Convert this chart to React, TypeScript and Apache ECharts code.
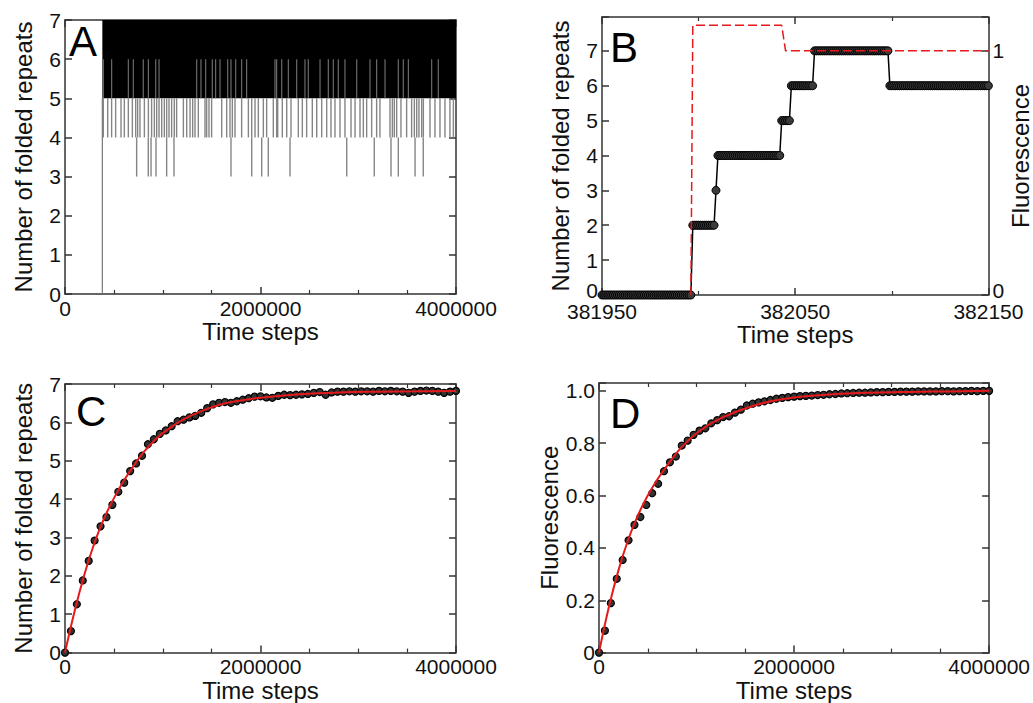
import React, { useEffect, useRef } from "react";
import * as echarts from "echarts";

const FONT = '"Liberation Sans", Arial, Helvetica, sans-serif';
const TXT = "#111";
const FRAME = "#333";
const RED = "#e41a1c";

// ---------- Panel A: raw trajectory ----------
const aFoldTime = 382000;
const aEndTime = 4000000;
const aBandLow = 5;
const aBandHigh = 7;
const aDipsTo4 = [392000, 437000, 477000, 518000, 573000, 607000, 648000, 689000, 723000, 743000, 767000, 812000, 853000, 886000, 914000, 938000, 962000, 989000, 1016000, 1040000, 1064000, 1091000, 1118000, 1142000, 1211000, 1245000, 1279000, 1306000, 1330000, 1364000, 1432000, 1449000, 1473000, 1500000, 1603000, 1654000, 1688000, 1712000, 1739000, 1807000, 1876000, 1910000, 1944000, 1978000, 2029000, 2063000, 2131000, 2165000, 2176000, 2223000, 2268000, 2312000, 2387000, 2428000, 2472000, 2530000, 2575000, 2626000, 2677000, 2721000, 2762000, 2813000, 2864000, 2926000, 2967000, 3018000, 3052000, 3086000, 3137000, 3188000, 3222000, 3325000, 3349000, 3369000, 3393000, 3437000, 3495000, 3546000, 3574000, 3598000, 3621000, 3649000, 3666000, 3734000, 3785000, 3836000, 3887000, 3938000, 3973000];
const aDipsTo3 = [733000, 852000, 880000, 931000, 1040000, 1115000, 1698000, 1910000, 2012000, 2080000, 2302000, 2882000, 3164000, 3335000, 3410000, 3581000, 3665000];
const aGaps56 = [392000, 477000, 648000, 699000, 801000, 853000, 928000, 962000, 1347000, 1391000, 1439000, 1507000, 1541000, 1586000, 1664000, 1698000, 1746000, 1807000, 1858000, 2148000, 2165000, 2217000, 2285000, 2370000, 2455000, 2489000, 2609000, 2694000, 2745000, 2796000, 2864000, 2984000, 3120000, 3188000, 3274000, 3410000, 3461000, 3513000, 3751000, 3819000];

// ---------- Panel B: zoom on folding event ----------
const bStart = 381950;
const bEnd = 382150;
const bStepStarts = [381950, 381997, 382009, 382010, 382043, 382048, 382060, 382099];
const bStepValues = [0, 2, 3, 4, 5, 6, 7, 6];
const bFluoTimes = [381996, 381997, 382043, 382045, 382150];
const bFluoValues = [0, 1.105, 1.105, 1.0, 1.0];

// ---------- Panels C & D: averages ----------
const cdEndTime = 4000000;
const cdSampleCount = 66; // intervals
const cValues = [0, 0.56, 1.26, 1.88, 2.39, 2.92, 3.29, 3.53, 3.85, 4.19, 4.43, 4.73, 4.93, 5.13, 5.43, 5.56, 5.7, 5.79, 5.9, 6.03, 6.07, 6.13, 6.17, 6.25, 6.37, 6.47, 6.51, 6.53, 6.51, 6.55, 6.59, 6.63, 6.67, 6.68, 6.65, 6.64, 6.69, 6.72, 6.71, 6.72, 6.73, 6.74, 6.77, 6.79, 6.72, 6.78, 6.8, 6.8, 6.81, 6.8, 6.81, 6.81, 6.8, 6.82, 6.81, 6.82, 6.81, 6.8, 6.77, 6.8, 6.82, 6.83, 6.82, 6.8, 6.77, 6.8, 6.82];
const dValues = [0, 0.084, 0.189, 0.282, 0.354, 0.429, 0.488, 0.518, 0.564, 0.609, 0.645, 0.693, 0.727, 0.749, 0.791, 0.81, 0.832, 0.848, 0.857, 0.876, 0.888, 0.9, 0.903, 0.917, 0.928, 0.944, 0.951, 0.956, 0.96, 0.965, 0.97, 0.973, 0.976, 0.978, 0.98, 0.981, 0.982, 0.984, 0.985, 0.987, 0.988, 0.99, 0.991, 0.992, 0.993, 0.993, 0.994, 0.995, 0.995, 0.996, 0.996, 0.997, 0.997, 0.997, 0.998, 0.998, 0.998, 0.998, 0.999, 0.999, 0.998, 0.999, 0.999, 1.0, 0.999, 1.0, 1.0];
const cFitTimes = [0, 100000, 200000, 300000, 400000, 500000, 600000, 700000, 800000, 900000, 1000000, 1200000, 1400000, 1600000, 1800000, 2000000, 2400000, 2800000, 3200000, 3600000, 4000000];
const cFitValues = [0, 1.1, 2.05, 2.85, 3.5, 4.02, 4.47, 4.86, 5.21, 5.49, 5.72, 6.06, 6.3, 6.47, 6.57, 6.64, 6.73, 6.78, 6.8, 6.81, 6.82];
const dFitTimes = [0, 100000, 200000, 300000, 400000, 500000, 600000, 700000, 800000, 900000, 1000000, 1200000, 1400000, 1600000, 1800000, 2000000, 2400000, 2800000, 3200000, 3600000, 4000000];
const dFitValues = [0, 0.172, 0.315, 0.432, 0.525, 0.6, 0.662, 0.715, 0.765, 0.805, 0.838, 0.886, 0.919, 0.945, 0.963, 0.975, 0.987, 0.993, 0.996, 0.998, 1.0];

const isMultiple = (v: number, step: number) => Math.abs(v / step - Math.round(v / step)) < 1e-6;

const richLow = { lo: { fontSize: 21, fontFamily: FONT, color: TXT, padding: [0, 0, 10, 0] } };

function makeX(grid: number, min: number, max: number, interval: number, minorSplit: number, fmt: (v: number) => string, nameGap: number, margin: number) {
  const base: any = {
    type: "value",
    gridIndex: grid,
    min,
    max,
    interval,
    splitLine: { show: false },
    axisLine: { show: true, onZero: false, lineStyle: { color: FRAME, width: 1.5 } },
    axisTick: { show: true, inside: true, length: 7, lineStyle: { color: FRAME, width: 1.5 } },
    minorTick: { show: minorSplit > 0, splitNumber: minorSplit || 5, length: 4, lineStyle: { color: FRAME, width: 1.2 } },
    minorSplitLine: { show: false },
  };
  return [
    {
      ...base,
      position: "bottom",
      axisLabel: { show: true, margin, fontSize: 21, lineHeight: 16, color: TXT, fontFamily: FONT, formatter: fmt },
      name: "Time steps",
      nameLocation: "middle",
      nameGap,
      nameTextStyle: { fontSize: 24, color: TXT, fontFamily: FONT },
    },
    { ...base, position: "top", axisLabel: { show: false } },
  ];
}

function makeY(grid: number, min: number, max: number, interval: number, fmt: (v: number) => string, name: string, nameGap: number, right?: any) {
  const base: any = {
    type: "value",
    gridIndex: grid,
    min,
    max,
    interval,
    splitLine: { show: false },
    axisLine: { show: true, onZero: false, lineStyle: { color: FRAME, width: 1.5 } },
    axisTick: { show: true, inside: true, length: 7, lineStyle: { color: FRAME, width: 1.5 } },
  };
  const left = {
    ...base,
    position: "left",
    axisLabel: { show: true, margin: 4, fontSize: 21, lineHeight: 14, color: TXT, fontFamily: FONT, formatter: fmt, rich: richLow },
    name,
    nameLocation: "middle",
    nameGap,
    nameTextStyle: { fontSize: 24, color: TXT, fontFamily: FONT },
  };
  const r = right
    ? {
        ...base,
        position: "right",
        min: right.min,
        max: right.max,
        interval: right.interval,
        axisLabel: { show: true, margin: 4, fontSize: 21, lineHeight: 14, color: TXT, fontFamily: FONT, formatter: right.fmt, rich: richLow },
        name: right.name,
        nameLocation: "middle",
        nameGap: right.nameGap,
        nameTextStyle: { fontSize: 24, color: TXT, fontFamily: FONT },
      }
    : { ...base, position: "right", axisLabel: { show: false } };
  return [left, r];
}

function segSeries(data: number[][], color: string, width: number, xi: number, yi: number, z: number) {
  return {
    type: "custom",
    xAxisIndex: xi,
    yAxisIndex: yi,
    z,
    clip: true,
    silent: true,
    data,
    encode: { x: 0, y: [1, 2] },
    renderItem: (_p: any, api: any) => {
      const a = api.coord([api.value(0), api.value(1)]);
      const b = api.coord([api.value(0), api.value(2)]);
      return {
        type: "line",
        shape: { x1: a[0], y1: a[1], x2: b[0], y2: b[1] },
        style: { stroke: color, lineWidth: width },
      };
    },
  };
}

export default function App() {
  const ref = useRef<HTMLDivElement>(null);
  useEffect(() => {
    if (!ref.current) return;
    const chart = echarts.init(ref.current, undefined, { renderer: "svg" });

    // Panel B: expand the step segments
    const bPoints: number[][] = [];
    for (let s = 0; s < bStepStarts.length; s++) {
      const from = bStepStarts[s];
      const to = s + 1 < bStepStarts.length ? bStepStarts[s + 1] - 1 : bEnd;
      for (let t = from; t <= to; t++) bPoints.push([t - bStart, bStepValues[s]]);
    }
    const bFluo = bFluoTimes.map((t, i) => [t - bStart, bFluoValues[i]]);

    const cdTime = (i: number) => (i * cdEndTime) / cdSampleCount;
    const cPts = cValues.map((v, i) => [cdTime(i), v]);
    const dPts = dValues.map((v, i) => [cdTime(i), v]);

    const intFmt = (v: number) => (isMultiple(v, 1) ? String(Math.round(v)) : "");
    const bIntFmt = (v: number) => {
      if (!isMultiple(v, 1)) return "";
      const k = Math.round(v);
      return k === 0 ? "{lo|0}" : String(k);
    };
    const timeFmt = (v: number) => String(Math.round(v));
    const dFmt = (v: number) => {
      if (!isMultiple(v, 0.2)) return "";
      const k = Math.round(v / 0.2);
      return k === 0 ? "0" : (k * 0.2).toFixed(1);
    };

    const xAxis = [
      ...makeX(0, 0, 4000000, 2000000, 4, timeFmt, 22, 6),
      ...makeX(1, 0, bEnd - bStart, 100, 2, (v) => String(Math.round(v + bStart)), 22, 8),
      ...makeX(2, 0, 4000000, 2000000, 4, timeFmt, 22, 6),
      ...makeX(3, 0, 4000000, 2000000, 4, timeFmt, 22, 6),
    ];
    const yAxis = [
      ...makeY(0, 0, 7, 1, intFmt, "Number of folded repeats", 30),
      ...makeY(1, 0, 7.97, 1, bIntFmt, "Number of folded repeats", 30, {
        min: 0,
        max: 7.97 / 7,
        interval: 1,
        fmt: bIntFmt,
        name: "Fluorescence",
        nameGap: 8,
      }),
      ...makeY(2, 0, 7, 1, intFmt, "Number of folded repeats", 30),
      ...makeY(3, 0, 1.03, 0.2, dFmt, "Fluorescence", 34),
    ];

    const letter = (text: string, x: number, y: number) => ({
      type: "text",
      left: x,
      top: y,
      z: 100,
      style: { text, fontSize: 42, fontFamily: FONT, fill: "#000" },
    });

    chart.setOption({
      animation: false,
      backgroundColor: "#fff",
      grid: [
        { left: 65, top: 20, width: 391, height: 274 },
        { left: 602, top: 17, width: 397, height: 278 },
        { left: 65, top: 384, width: 391, height: 274 },
        { left: 599, top: 383, width: 391, height: 275 },
      ],
      xAxis,
      yAxis,
      graphic: [letter("A", 69, 20), letter("B", 610, 26), letter("C", 76, 390), letter("D", 610, 392)],
      series: [
        // Panel A
        {
          type: "custom",
          xAxisIndex: 0,
          yAxisIndex: 0,
          z: 2,
          clip: true,
          silent: true,
          data: [[aFoldTime, aEndTime, aBandLow, aBandHigh]],
          encode: { x: [0, 1], y: [2, 3] },
          renderItem: (_p: any, api: any) => {
            const p0 = api.coord([api.value(0), api.value(3)]);
            const p1 = api.coord([api.value(1), api.value(2)]);
            return {
              type: "rect",
              shape: { x: p0[0], y: p0[1], width: p1[0] - p0[0], height: p1[1] - p0[1] },
              style: { fill: "#000" },
            };
          },
        },
        segSeries([[aFoldTime, 0, aBandLow]], "#777", 1.2, 0, 0, 3),
        segSeries(aDipsTo4.map((t) => [t, 4, aBandLow]), "#858585", 1.4, 0, 0, 3),
        segSeries(aDipsTo3.map((t) => [t, 3, 4]), "#858585", 1.4, 0, 0, 3),
        segSeries(aGaps56.map((t) => [t, 5, 6]), "#6a6a6a", 1.2, 0, 0, 4),
        // Panel B
        {
          type: "line",
          xAxisIndex: 2,
          yAxisIndex: 2,
          z: 3,
          data: bPoints,
          showSymbol: true,
          symbol: "circle",
          symbolSize: 8,
          itemStyle: { color: "#3a3a3a", borderColor: "#000", borderWidth: 1 },
          lineStyle: { color: "#000", width: 1.5 },
          silent: true,
        },
        {
          type: "line",
          xAxisIndex: 2,
          yAxisIndex: 3,
          z: 5,
          data: bFluo,
          showSymbol: false,
          symbol: "none",
          lineStyle: { color: RED, width: 1.5, type: [9, 4] },
          silent: true,
        },
        // Panel C
        {
          type: "scatter",
          xAxisIndex: 4,
          yAxisIndex: 4,
          z: 3,
          data: cPts,
          symbol: "circle",
          symbolSize: 7,
          itemStyle: { color: "#333", borderColor: "#000", borderWidth: 1.2, opacity: 1 },
          silent: true,
        },
        {
          type: "line",
          xAxisIndex: 4,
          yAxisIndex: 4,
          z: 5,
          data: cFitTimes.map((t, i) => [t, cFitValues[i]]),
          smooth: 0.4,
          showSymbol: false,
          symbol: "none",
          lineStyle: { color: RED, width: 2 },
          silent: true,
        },
        // Panel D
        {
          type: "scatter",
          xAxisIndex: 6,
          yAxisIndex: 6,
          z: 3,
          data: dPts,
          symbol: "circle",
          symbolSize: 7,
          itemStyle: { color: "#333", borderColor: "#000", borderWidth: 1.2, opacity: 1 },
          silent: true,
        },
        {
          type: "line",
          xAxisIndex: 6,
          yAxisIndex: 6,
          z: 5,
          data: dFitTimes.map((t, i) => [t, dFitValues[i]]),
          smooth: 0.4,
          showSymbol: false,
          symbol: "none",
          lineStyle: { color: RED, width: 2 },
          silent: true,
        },
      ],
    });
    return () => chart.dispose();
  }, []);
  return <div ref={ref} style={{ position: "absolute", left: 0, top: 0, width: 1033, height: 703, background: "#fff" }} />;
}
